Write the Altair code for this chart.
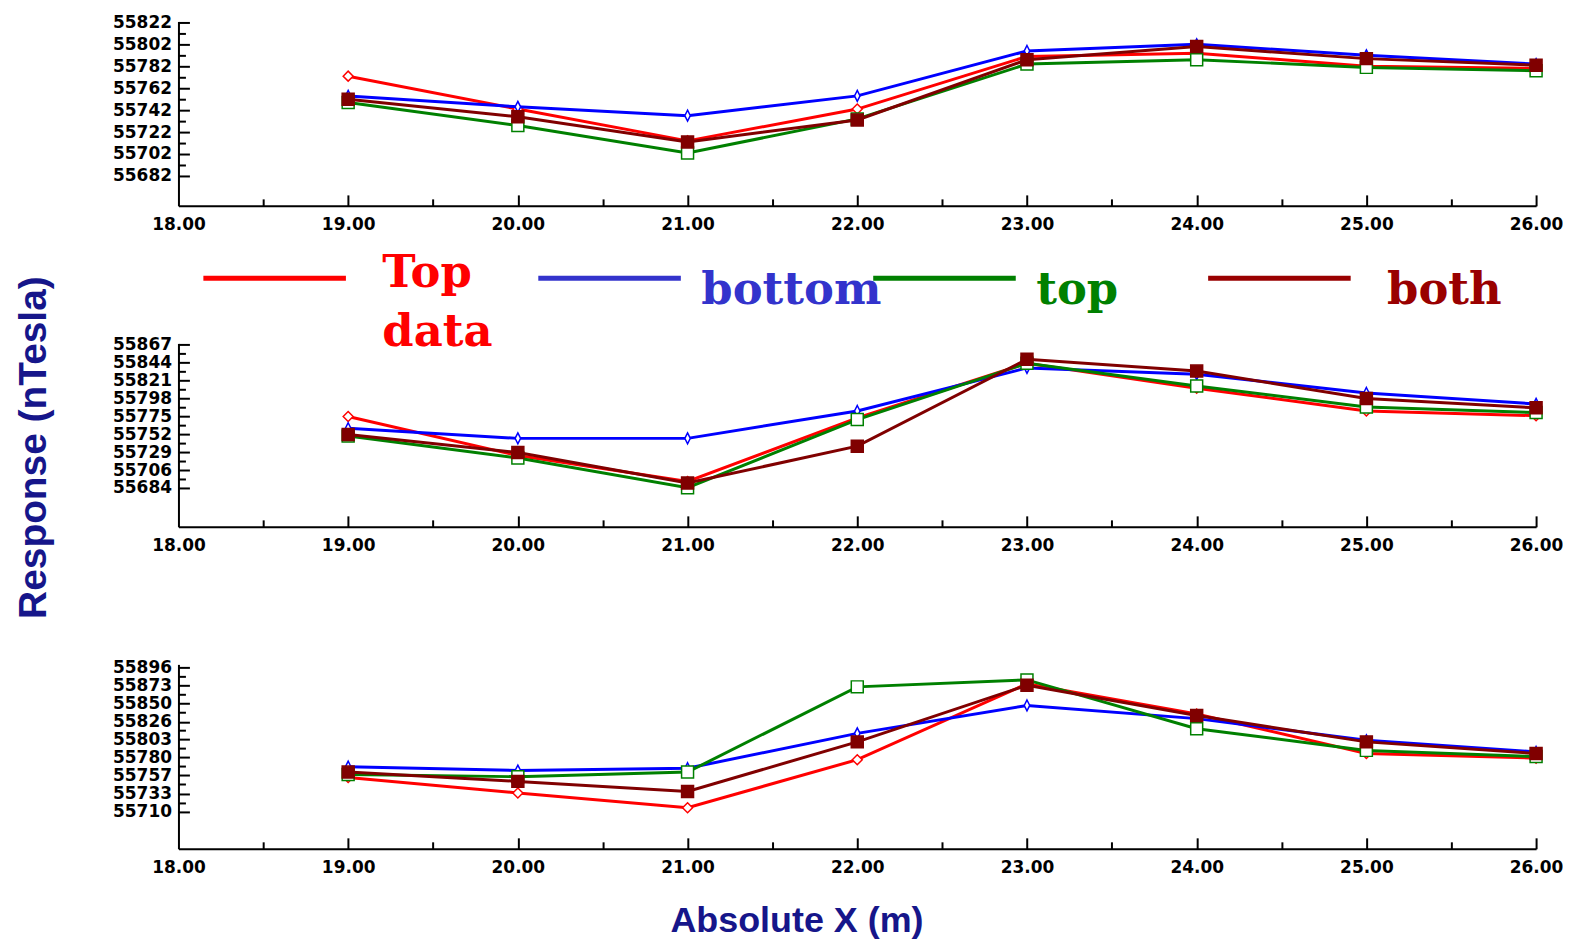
import altair as alt
import pandas as pd

# ---------------- data ----------------
x_positions = [19, 20, 21, 22, 23, 24, 25, 26]
x_tick_labels = [18, 19, 20, 21, 22, 23, 24, 25, 26]
series_names = ["Top data", "bottom", "top", "both"]
legend_labels = ["Top\ndata", "bottom", "top", "both"]

p1_top_data = [55773, 55743, 55714, 55743, 55791, 55794, 55782, 55780]
p1_bottom = [55755, 55745, 55737, 55755, 55796, 55802, 55792, 55784]
p1_top = [55749, 55728, 55703, 55734, 55784, 55788, 55781, 55778]
p1_both = [55752, 55736, 55713, 55733, 55788, 55800, 55789, 55783]
p1_yticks = [55682, 55702, 55722, 55742, 55762, 55782, 55802, 55822]
p1_ydomain = [55654.7, 55822.9]

p2_top_data = [55775, 55725, 55692, 55773, 55843, 55811, 55782, 55776]
p2_bottom = [55760, 55747, 55747, 55782, 55837, 55829, 55805, 55791]
p2_top = [55750, 55722, 55684, 55771, 55843, 55814, 55787, 55780]
p2_both = [55752, 55729, 55690, 55737, 55848, 55833, 55798, 55786]
p2_yticks = [55684, 55706, 55729, 55752, 55775, 55798, 55821, 55844, 55867]
p2_ydomain = [55634.0, 55868.3]

p3_top_data = [55754, 55734, 55715, 55777, 55875, 55836, 55785, 55779]
p3_bottom = [55768, 55763, 55766, 55811, 55847, 55830, 55802, 55787]
p3_top = [55758, 55755, 55761, 55871, 55880, 55817, 55789, 55781]
p3_both = [55761, 55749, 55736, 55800, 55873, 55834, 55800, 55785]
p3_yticks = [55710, 55733, 55757, 55780, 55803, 55826, 55850, 55873, 55896]
p3_ydomain = [55662.0, 55900.0]

# ---------------- styles ----------------
line_colors = ["#FF0000", "#0000FF", "#008000", "#800000"]
legend_colors = ["#FF0000", "#3333CC", "#008000", "#990000"]
marker_shapes = ["diamond", "M0,-1L0.5,0L0,1L-0.5,0Z", "square", "square"]
marker_sizes = [100, 121, 144, 144]
marker_fills = ["white", "white", "white", "#800000"]
NAVY = "#16168A"
W = 1362
HEIGHTS = [185, 184, 185]

x_major = x_tick_labels[1:]
x_minor = [a + 0.5 for a in x_tick_labels[:-1]]


def build_panel(idx, series_vals, ydomain, yticks, xtitle=None, ytitle=None, with_legend=False):
    h = HEIGHTS[idx]
    rows = []
    for name, vals in zip(series_names, series_vals):
        for xv, yv in zip(x_positions, vals):
            rows.append({"x": xv, "v": yv, "s": name})
    df = pd.DataFrame(rows)

    xs = alt.Scale(domain=[18, 26], nice=False, zero=False)
    ys = alt.Scale(domain=ydomain, nice=False, zero=False)

    xkw = dict(orient="bottom", values=x_tick_labels, format=".2f", ticks=False, tickSize=0,
               labelPadding=11, labelFlush=False, labelOverlap=False, grid=False,
               domainColor="black", domainWidth=2)
    if xtitle:
        xkw.update(title=xtitle, titleFont="Liberation Sans", titleFontWeight="bold",
                   titleFontSize=36, titleColor=NAVY, titleX=620, titleY=83,
                   titleAlign="center", titleBaseline="alphabetic", titleAngle=0)
    else:
        xkw.update(title=None)
    xaxis = alt.Axis(**xkw)

    ykw = dict(orient="left", values=yticks, format="d", ticks=False, tickSize=0,
               labelPadding=7, labelFlush=False, labelOverlap=False, grid=False,
               domainColor="black", domainWidth=2, labelBaseline="middle")
    if ytitle:
        ykw.update(title=ytitle, titleFont="Liberation Sans", titleFontWeight="bold",
                   titleFontSize=39, titleColor=NAVY, titleX=-133, titleY=104,
                   titleAlign="center", titleBaseline="alphabetic", titleAngle=270)
    else:
        ykw.update(title=None)
    yaxis = alt.Axis(**ykw)

    layers = []
    for k, name in enumerate(series_names):
        sub = alt.Chart(df).transform_filter(alt.datum.s == name)
        enc = dict(x=alt.X("x:Q", scale=xs, axis=xaxis), y=alt.Y("v:Q", scale=ys, axis=yaxis))
        layers.append(sub.mark_line(color=line_colors[k], strokeWidth=3).encode(**enc))
        layers.append(sub.mark_point(shape=marker_shapes[k], size=marker_sizes[k], filled=True,
                                     fill=marker_fills[k], stroke=line_colors[k], strokeWidth=1.5,
                                     opacity=1, fillOpacity=1).encode(**enc))
    data_layer = alt.layer(*layers)

    y_minor = [(a + b) / 2 for a, b in zip(yticks[:-1], yticks[1:])]

    def tick_layer(xv, yv, size):
        return alt.Chart(df).mark_point(opacity=0).encode(
            x=alt.X("x:Q", scale=xs, axis=alt.Axis(orient="top", offset=-h, values=xv, labels=False,
                                                    domain=False, grid=False, tickSize=size, tickWidth=2,
                                                    tickColor="black", title=None)),
            y=alt.Y("v:Q", scale=ys, axis=alt.Axis(orient="right", offset=-W, values=yv, labels=False,
                                                    domain=False, grid=False, tickSize=size, tickWidth=2,
                                                    tickColor="black", title=None)),
        )

    all_layers = [data_layer, tick_layer(x_major, yticks, 11), tick_layer(x_minor, y_minor, 7)]

    if with_legend:
        leg_df = pd.DataFrame({"name": series_names, "label": legend_labels})
        lx = alt.X("name:N", scale=alt.Scale(type="point", domain=series_names, range=[96.5, 1104.5],
                                             padding=0), axis=None)
        lc = alt.Color("name:N", scale=alt.Scale(domain=series_names, range=legend_colors), legend=None)
        rule = alt.Chart(leg_df).mark_rule(strokeWidth=5, xOffset=-71.5, x2Offset=71.5).encode(
            x=lx, x2=alt.X2("name"), y=alt.value(257.7), color=lc)
        outer = f"(datum.name == '{series_names[0]}' || datum.name == '{series_names[-1]}')"
        txt_font = dict(align="left", baseline="alphabetic", font="DejaVu Serif", fontWeight="bold", fontSize=45)
        txt_inner = alt.Chart(leg_df).transform_filter(f"!{outer}").mark_text(dx=92, **txt_font).encode(
            x=lx, y=alt.value(283), text="label:N", color=lc)
        txt_last = alt.Chart(leg_df).transform_filter(
            f"{outer} && indexof(datum.label, '\\n') < 0").mark_text(dx=108, **txt_font).encode(
            x=lx, y=alt.value(283), text="label:N", color=lc)
        txt_multi = alt.Chart(leg_df).transform_filter("indexof(datum.label, '\\n') >= 0").mark_text(
            dx=108, lineBreak="\n", lineHeight=60, **txt_font).encode(
            x=lx, y=alt.value(266), text="label:N", color=lc)
        all_layers += [rule, txt_inner, txt_last, txt_multi]

    return alt.layer(*all_layers).resolve_scale(x="independent", y="independent").properties(width=W, height=h)


p1 = build_panel(0, [p1_top_data, p1_bottom, p1_top, p1_both], p1_ydomain, p1_yticks, with_legend=True)
p2 = build_panel(1, [p2_top_data, p2_bottom, p2_top, p2_both], p2_ydomain, p2_yticks, ytitle="Response (nTesla)")
p3 = build_panel(2, [p3_top_data, p3_bottom, p3_top, p3_both], p3_ydomain, p3_yticks, xtitle="Absolute X (m)")

chart = alt.vconcat(p1, p2, p3, spacing=138, bounds="flush").properties(
    padding={"left": 6, "top": 3, "right": 0, "bottom": 0},
    background="white",
).configure_view(strokeOpacity=0).configure_axis(
    labelFont="DejaVu Sans", labelFontWeight="bold", labelFontSize=17, labelColor="black",
)

chart.save("out.html", embed_options={"renderer": "svg", "actions": False})
